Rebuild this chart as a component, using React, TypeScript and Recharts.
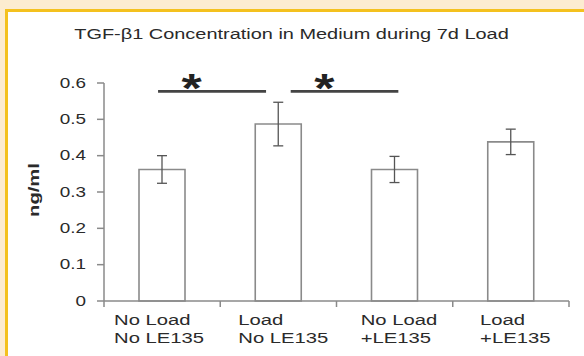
import { ComposedChart, Bar, Scatter, XAxis, YAxis, ErrorBar, ReferenceLine } from "recharts";

const categories = ["No Load\nNo LE135", "Load\nNo LE135", "No Load\n+LE135", "Load\n+LE135"];
const concentration = [0.362, 0.487, 0.362, 0.438];
const sem = [0.038, 0.06, 0.036, 0.035];
const yTicks = [0, 0.1, 0.2, 0.3, 0.4, 0.5, 0.6];

// significance brackets, in category units (0..4) on a hidden numeric axis
const sigLevel = 0.577;
const sigSpans = [
  [0.465, 1.394],
  [1.606, 2.532],
];
const starPos = [0.754, 1.895];

const labelNudge = [-7, 1, 2, 0];

const TEXT = "#2a2a2a";
const AXIS = "#8a8a8a";
const FONT = "'Liberation Sans', Arial, sans-serif";
const SX = 1.35;

const data = categories.map((name, i) => ({
  name,
  value: concentration[i],
  err: sem[i],
}));
const stars = starPos.map((x) => ({ x, y: sigLevel }));

function YTick({ x, y, payload }: any) {
  return (
    <g transform={`translate(${x},${y + 4.5})`}>
      <text transform={`scale(${SX},1)`} textAnchor="end" fontSize={14} fontFamily={FONT} fill={TEXT}>
        {String(payload.value)}
      </text>
    </g>
  );
}

function XTick({ x, y, payload, index }: any) {
  const half = payload.offset || 58;
  const lines = String(payload.value).split("\n");
  const width = Math.max(...lines.map((l) => l.length)) * 7.6 * SX;
  const left = x - width / 2 + labelNudge[index];
  return (
    <g>
      <line x1={x - half} y1={y} x2={x - half} y2={y + 6} stroke={AXIS} strokeWidth={1.5} />
      {index === categories.length - 1 && (
        <line x1={x + half} y1={y} x2={x + half} y2={y + 6} stroke={AXIS} strokeWidth={1.5} />
      )}
      {lines.map((l, i) => (
        <g key={i} transform={`translate(${left},${y + 24 + i * 18})`}>
          <text transform={`scale(${SX},1)`} fontSize={15} fontFamily={FONT} fill={TEXT}>
            {l}
          </text>
        </g>
      ))}
    </g>
  );
}

// asterisk sits just above the bracket line
function Star({ cx, cy }: any) {
  const fs = 40;
  return (
    <g transform={`translate(${cx},${cy - 12 + 0.57 * fs})`}>
      <text transform="scale(1.3,1)" textAnchor="middle" fontSize={fs} fontWeight="bold" fontFamily={FONT} fill="#222">
        *
      </text>
    </g>
  );
}

export default function App() {
  return (
    <div style={{ position: "fixed", left: 0, top: 0, width: 584, height: 356, background: "#fff", overflow: "hidden" }}>
      <div style={{ position: "absolute", left: 0, top: 0, width: 584, height: 9, background: "#fcecd0" }} />
      <div style={{ position: "absolute", left: 0, top: 0, width: 5, height: 356, background: "#fcecd0" }} />
      <div style={{ position: "absolute", left: 5, top: 9, width: 579, height: 2.5, background: "#f4c11e" }} />
      <div style={{ position: "absolute", left: 5, top: 9, width: 3, height: 347, background: "#f4c11e" }} />
      <div style={{ position: "absolute", left: 0, top: 0 }}>
        <ComposedChart width={584} height={356} data={data} margin={{ top: 83, right: 15, left: 0, bottom: 0 }}>
          <XAxis
            dataKey="name"
            height={55}
            interval={0}
            tickSize={0}
            tickMargin={0}
            tickLine={false}
            axisLine={{ stroke: AXIS, strokeWidth: 1.5 }}
            tick={<XTick />}
          />
          <XAxis xAxisId="n" dataKey="x" type="number" domain={[0, 4]} hide />
          <YAxis
            width={104}
            domain={[0, 0.6]}
            ticks={yTicks}
            interval={0}
            tickSize={7}
            tickMargin={11}
            tickLine={{ stroke: AXIS, strokeWidth: 1.5 }}
            axisLine={{ stroke: AXIS, strokeWidth: 1.5 }}
            tick={<YTick />}
          />
          <Bar dataKey="value" fill="#fff" stroke={AXIS} strokeWidth={1.6} barSize={46} isAnimationActive={false}>
            <ErrorBar dataKey="err" width={5} stroke="#555" strokeWidth={1.3} isAnimationActive={false} />
          </Bar>
          {sigSpans.map(([a, b], i) => (
            <ReferenceLine
              key={`sig-${i}`}
              xAxisId="n"
              segment={[{ x: a, y: sigLevel }, { x: b, y: sigLevel }]}
              stroke="#444"
              strokeWidth={2.6}
              ifOverflow="visible"
            />
          ))}
          <Scatter xAxisId="n" data={stars} dataKey="y" shape={<Star />} isAnimationActive={false} />
        </ComposedChart>
      </div>
      <svg width={584} height={356} style={{ position: "absolute", left: 0, top: 0, pointerEvents: "none" }}>
        <g transform="translate(291.5,38.5)">
          <text transform={`scale(1.33,1)`} textAnchor="middle" fontSize={15} fontFamily={FONT} fill={TEXT}>
            TGF-β1 Concentration in Medium during 7d Load
          </text>
        </g>
        <g transform="translate(39,190) rotate(-90)">
          <text transform={`scale(${SX},1)`} textAnchor="middle" fontSize={15} fontWeight="bold" fontFamily={FONT} fill={TEXT}>
            ng/ml
          </text>
        </g>
      </svg>
    </div>
  );
}
